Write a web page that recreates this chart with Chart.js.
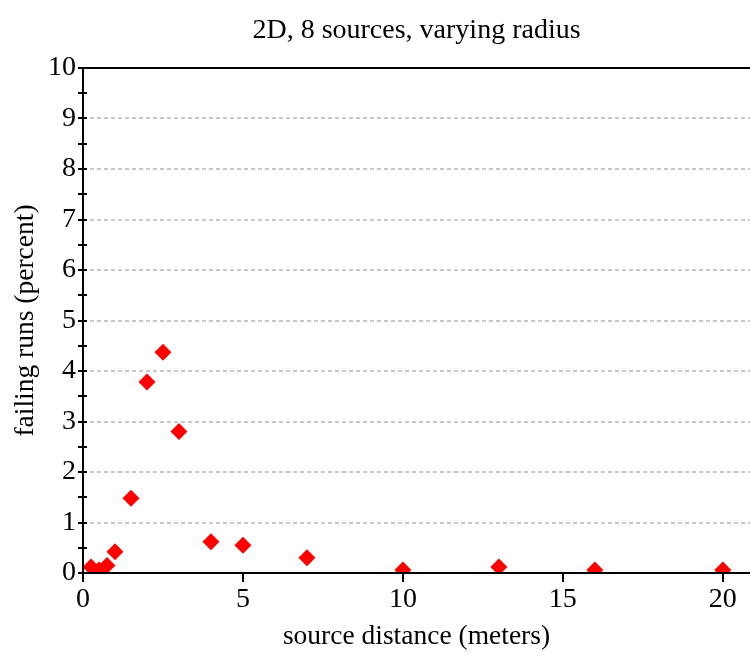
<!DOCTYPE html>
<html>
<head>
<meta charset="utf-8">
<script src="https://cdn.jsdelivr.net/npm/chart.js@4/dist/chart.umd.min.js"></script>
<style>
  html, body { margin: 0; padding: 0; background: #fff; }
  #wrap { width: 750px; height: 657px; }
</style>
</head>
<body>
<div id="wrap"><canvas id="scatter"></canvas></div>
<script>
// source distance (meters) and failing runs (percent)
const distances = [0.25, 0.5, 0.75, 1, 1.5, 2, 2.5, 3, 4, 5, 7, 10, 13, 16, 20];
const failing = [0.12, 0.06, 0.15, 0.42, 1.48, 3.78, 4.37, 2.8, 0.62, 0.55, 0.3, 0.06, 0.12, 0.06, 0.06];
const yTicks = [0, 1, 2, 3, 4, 5, 6, 7, 8, 9, 10];
const xTicks = [0, 5, 10, 15, 20];
const chartTitle = '2D, 8 sources, varying radius';

const FONT = 'Liberation Serif';

// axis lines, frame top and tick marks drawn over the points
const axesPlugin = {
  id: 'axes',
  afterDatasetsDraw(chart) {
    const { ctx, chartArea: a, scales } = chart;
    const ys = scales.y, xs = scales.x;
    ctx.save();
    ctx.strokeStyle = '#000';
    ctx.lineWidth = 2;
    ctx.beginPath();
    ctx.moveTo(a.left, a.top);
    ctx.lineTo(a.right, a.top);
    ctx.moveTo(a.left, a.top - 1);
    ctx.lineTo(a.left, a.bottom);
    ctx.moveTo(a.left - 1, a.bottom);
    ctx.lineTo(a.right, a.bottom);
    // y ticks every half unit, crossing the axis
    for (let v = ys.min; v <= ys.max + 1e-9; v += 0.5) {
      const py = Math.round(ys.getPixelForValue(v));
      ctx.moveTo(a.left - 5, py);
      ctx.lineTo(a.left + 4, py);
    }
    // x ticks below the axis
    xTicks.forEach(v => {
      const px = Math.round(xs.getPixelForValue(v));
      ctx.moveTo(px, a.bottom);
      ctx.lineTo(px, a.bottom + 9);
    });
    ctx.stroke();

    // title, centred over the plot area
    ctx.fillStyle = '#000';
    ctx.font = '28px "' + FONT + '"';
    ctx.textAlign = 'center';
    ctx.textBaseline = 'alphabetic';
    ctx.fillText(chartTitle, (a.left + a.right) / 2, 38);
    ctx.restore();
  }
};

new Chart(document.getElementById('scatter'), {
  type: 'scatter',
  data: {
    datasets: [{
      data: distances.map((d, i) => ({ x: d, y: failing[i] })),
      pointStyle: 'rectRot',
      pointRadius: 8.5,
      pointHoverRadius: 8.5,
      backgroundColor: '#ff0000',
      borderColor: '#ff0000',
      borderWidth: 0,
      clip: 0
    }]
  },
  options: {
    responsive: true,
    maintainAspectRatio: false,
    animation: false,
    layout: {
      autoPadding: false,
      padding: { top: 68, right: 0, bottom: 0, left: 0 }
    },
    plugins: {
      legend: { display: false },
      tooltip: { enabled: false },
      title: { display: false }
    },
    scales: {
      x: {
        type: 'linear',
        min: 0,
        max: 20.85,
        afterFit(scale) {
          scale.height = 84;
          scale.paddingLeft = 0;
          scale.paddingRight = 0;
        },
        afterBuildTicks(scale) { scale.ticks = xTicks.map(v => ({ value: v })); },
        border: { display: false },
        grid: { display: false, drawTicks: false },
        ticks: {
          color: '#000',
          padding: 10,
          maxRotation: 0,
          font: { family: FONT, size: 28 }
        },
        title: {
          display: true,
          text: 'source distance (meters)',
          color: '#000',
          font: { family: FONT, size: 27.5 },
          padding: { top: 0, bottom: 4 }
        }
      },
      y: {
        min: 0,
        max: 10,
        afterFit(scale) {
          scale.width = 83;
          scale.paddingTop = 0;
          scale.paddingBottom = 0;
        },
        afterBuildTicks(scale) { scale.ticks = yTicks.map(v => ({ value: v })); },
        border: { display: false, dash: [4, 3] },
        grid: {
          drawTicks: false,
          lineWidth: 2,
          color: c => (c.tick && c.tick.value > 0 && c.tick.value < 10) ? '#c8c8c8' : 'rgba(0,0,0,0)'
        },
        ticks: {
          color: '#000',
          padding: 7,
          font: { family: FONT, size: 28 }
        },
        title: {
          display: true,
          text: 'failing runs (percent)',
          color: '#000',
          font: { family: FONT, size: 27.5 },
          padding: { top: 9, bottom: 0 }
        }
      }
    }
  },
  plugins: [axesPlugin]
});
</script>
</body>
</html>
